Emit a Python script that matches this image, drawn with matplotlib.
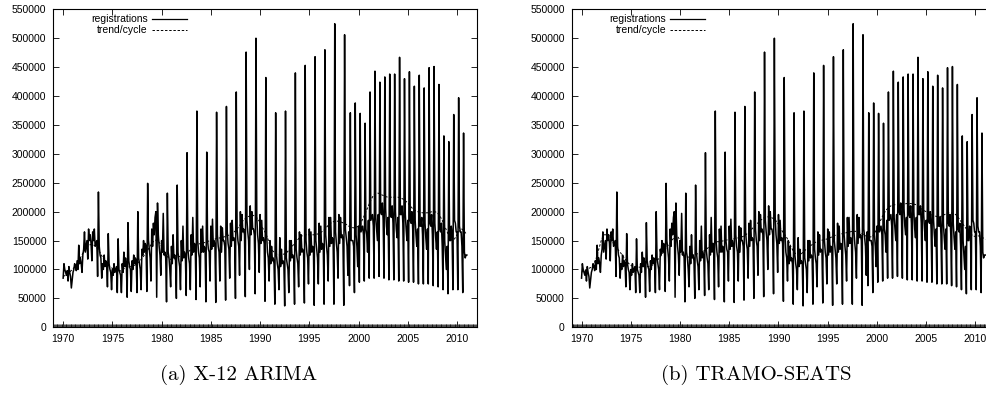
import numpy as np
import matplotlib
matplotlib.use("Agg")
import matplotlib.pyplot as plt

# monthly new car registrations, thousands, Jan..Dec, 1970-2010
registrations = [
    [85, 110, 100, 95, 90, 98, 80, 105, 95, 88, 68, 82],        # 1970
    [95, 100, 110, 105, 98, 115, 100, 142, 110, 120, 110, 95],   # 1971
    [125, 135, 165, 130, 140, 150, 118, 170, 150, 160, 145, 115],
    [165, 150, 170, 140, 145, 150, 88, 234, 140, 125, 120, 85],
    [110, 100, 125, 105, 115, 110, 70, 162, 110, 100, 95, 65],
    [100, 90, 110, 95, 100, 105, 60, 153, 100, 95, 90, 60],      # 1975
    [110, 95, 130, 105, 120, 110, 52, 181, 115, 105, 100, 62],
    [115, 100, 125, 110, 120, 115, 60, 200, 120, 110, 100, 65],
    [135, 125, 150, 130, 145, 140, 62, 249, 150, 135, 120, 80],
    [170, 140, 180, 160, 190, 200, 52, 215, 160, 140, 125, 90],
    [150, 130, 197, 125, 130, 120, 44, 232, 130, 120, 100, 70],  # 1980
    [140, 110, 160, 120, 125, 115, 50, 246, 130, 115, 105, 65],
    [150, 115, 175, 120, 130, 120, 55, 302, 135, 120, 110, 65],
    [160, 125, 190, 130, 145, 140, 48, 374, 150, 130, 120, 70],
    [170, 130, 175, 130, 140, 135, 44, 303, 150, 135, 130, 80],
    [175, 135, 187, 140, 150, 140, 43, 372, 160, 140, 130, 80],  # 1985
    [175, 130, 172, 150, 150, 140, 47, 382, 165, 145, 135, 85],
    [180, 140, 185, 150, 155, 150, 50, 407, 170, 150, 140, 90],
    [200, 150, 195, 165, 170, 160, 53, 476, 185, 165, 150, 100],
    [210, 160, 200, 170, 170, 160, 58, 500, 190, 160, 145, 95],
    [195, 145, 185, 150, 155, 145, 45, 432, 160, 130, 120, 80],  # 1990
    [150, 110, 140, 115, 120, 110, 40, 371, 125, 110, 100, 65],
    [155, 105, 135, 110, 115, 110, 37, 374, 120, 110, 100, 60],
    [150, 115, 150, 120, 125, 120, 40, 440, 135, 120, 110, 70],
    [165, 125, 160, 130, 135, 130, 42, 453, 150, 130, 120, 75],
    [170, 125, 165, 130, 140, 135, 38, 468, 150, 135, 120, 75],  # 1995
    [180, 130, 175, 135, 145, 140, 40, 480, 160, 140, 125, 80],
    [190, 140, 190, 145, 155, 150, 40, 525, 165, 145, 130, 85],
    [195, 145, 190, 155, 160, 150, 38, 506, 170, 155, 140, 90],
    [165, 72, 371, 150, 150, 150, 140, 60, 388, 160, 140, 105],
    [175, 78, 370, 165, 170, 175, 160, 80, 353, 170, 160, 130],  # 2000
    [185, 85, 407, 185, 190, 195, 175, 85, 443, 190, 170, 150],
    [195, 88, 424, 200, 195, 215, 185, 85, 433, 205, 175, 160],
    [190, 82, 438, 195, 190, 210, 180, 82, 438, 200, 170, 155],
    [190, 80, 467, 195, 195, 210, 180, 80, 430, 195, 170, 150],
    [185, 78, 442, 185, 180, 200, 170, 78, 417, 185, 160, 140],  # 2005
    [170, 75, 436, 175, 175, 190, 160, 75, 414, 180, 155, 135],
    [170, 75, 449, 180, 175, 195, 160, 72, 451, 180, 155, 135],
    [165, 70, 420, 170, 165, 180, 140, 65, 331, 150, 125, 100],
    [140, 58, 321, 150, 150, 175, 160, 65, 368, 185, 180, 165],
    [165, 65, 397, 175, 165, 165, 140, 60, 336, 130, 120, 125],  # 2010
]
registrations_2011 = [125]  # January 2011

# trend/cycle read quarterly, thousands, 1970.0 .. 2011.0
trend_x12 = [
    88, 90, 93, 97, 101, 106, 113, 120, 128, 135, 140, 143,
    143, 141, 136, 129, 121, 114, 109, 105, 102, 99, 97, 97,
    99, 102, 104, 105, 105, 107, 110, 114, 119, 125, 131, 138,
    145, 150, 151, 147, 140, 131, 124, 119, 117, 118, 120, 122,
    124, 126, 128, 131, 135, 139, 142, 144, 145, 146, 147, 149,
    150, 152, 153, 154, 155, 156, 157, 159, 160, 163, 167, 172,
    178, 184, 188, 191, 193, 194, 192, 188, 181, 172, 165, 155,
    142, 133, 128, 126, 125, 126, 127, 130, 135, 140, 145, 150,
    155, 158, 160, 160, 160, 160, 160, 161, 162, 165, 168, 173,
    178, 181, 183, 184, 183, 182, 180, 178, 175, 173, 172, 173,
    175, 181, 190, 200, 210, 220, 228, 232, 232, 230, 228, 226,
    225, 225, 225, 225, 225, 224, 222, 219, 215, 210, 205, 202,
    200, 199, 198, 198, 198, 199, 200, 200, 198, 193, 185, 175,
    165, 155, 150, 153, 160, 167, 170, 166, 160,
]
trend_tramo = [
    95, 98, 100, 102, 104, 110, 120, 135, 150, 160, 160, 156,
    150, 145, 140, 133, 128, 122, 116, 111, 107, 105, 104, 104,
    104, 105, 105, 105, 106, 108, 112, 117, 122, 128, 135, 141,
    146, 152, 157, 158, 150, 125, 121, 121, 122, 124, 126, 127,
    128, 130, 133, 136, 140, 143, 146, 148, 148, 149, 150, 151,
    152, 153, 153, 154, 155, 156, 158, 161, 165, 169, 174, 178,
    182, 186, 189, 191, 191, 190, 188, 184, 178, 170, 163, 158,
    150, 140, 132, 127, 125, 126, 130, 134, 138, 141, 144, 147,
    149, 150, 151, 152, 153, 155, 157, 159, 160, 161, 162, 163,
    164, 165, 166, 166, 166, 164, 162, 159, 157, 156, 157, 162,
    170, 180, 190, 198, 204, 208, 211, 212, 212, 212, 213, 213,
    214, 214, 214, 213, 212, 209, 205, 202, 200, 198, 195, 193,
    192, 191, 192, 194, 196, 198, 198, 197, 195, 190, 184, 178,
    172, 167, 162, 158, 157, 158, 158, 155, 152,
]

panels = [("(a) X-12 ARIMA", trend_x12), ("(b) TRAMO-SEATS", trend_tramo)]
year_ticks = list(range(1970, 2011, 5))
value_ticks = list(range(0, 550001, 50000))

reg = np.concatenate([np.concatenate(registrations), registrations_2011]) * 1000
t_reg = 1970 + np.arange(len(reg)) / 12

tick_font = {"family": ["Liberation Sans", "DejaVu Sans"], "size": 7.5}

fig = plt.figure(figsize=(9.87, 3.93), dpi=100)
lefts = [53.3 / 987, 571.7 / 987]
for left, (caption, trend) in zip(lefts, panels):
    ax = fig.add_axes([left, 65.7 / 393, 423.4 / 987, 318 / 393])
    tr = np.array(trend) * 1000
    t_tr = 1970 + np.arange(len(tr)) / 4

    ax.plot(t_reg, reg, color="black", lw=1.1)
    ax.plot(t_tr, tr, color="black", lw=0.7, ls=(0, (2.5, 1.8)))

    ax.set_xlim(1969, 2012)
    ax.set_ylim(0, 550000)
    ax.set_xticks(year_ticks)
    ax.set_yticks(value_ticks)
    ax.set_xticks(np.arange(1969, 2012, 1 / 12), minor=True)
    ax.set_xticklabels([str(y) for y in year_ticks], fontdict=tick_font)
    ax.set_yticklabels([str(v) for v in value_ticks], fontdict=tick_font)
    ax.tick_params(which="major", direction="in", length=4, width=0.6,
                   top=True, right=True, pad=5)
    ax.tick_params(which="minor", axis="x", direction="in", length=2,
                   width=0.5, top=False)
    for s in ax.spines.values():
        s.set_linewidth(0.8)

    # gnuplot style key: text right aligned, sample to the right
    ax.text(0.223, 0.968, "registrations", transform=ax.transAxes,
            ha="right", va="center", fontdict=tick_font)
    ax.text(0.223, 0.934, "trend/cycle", transform=ax.transAxes,
            ha="right", va="center", fontdict=tick_font)
    ax.plot([0.233, 0.316], [0.968, 0.968], transform=ax.transAxes,
            color="black", lw=0.9)
    ax.plot([0.233, 0.316], [0.934, 0.934], transform=ax.transAxes,
            color="black", lw=0.7, ls=(0, (2.5, 1.8)))

    fig.text(left + 185 / 987, 18 / 393, caption, ha="center", va="center",
             family=["cmr10", "DejaVu Serif"], size=15)

fig.savefig("out.png", dpi=100)
